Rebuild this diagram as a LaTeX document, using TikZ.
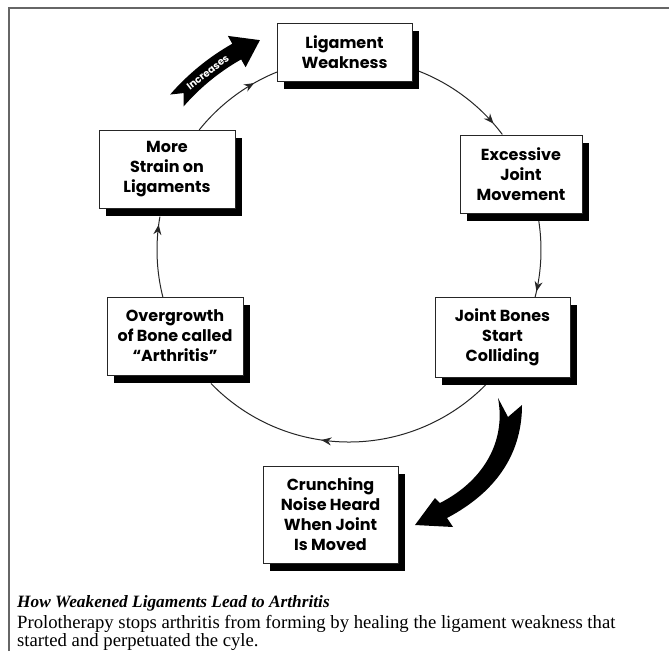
\documentclass[tikz,border=0pt]{standalone}
\usepackage{fontspec}
\setmainfont{Liberation Serif}
\newfontfamily\boxfont{Poppins}
\usetikzlibrary{arrows.meta,decorations.markings,shadows,calc}
\begin{document}
\begin{tikzpicture}[x=1pt,y=1pt,
  box/.style={draw=black!85, line width=0.8pt, fill=white, align=center,
    font=\boxfont\bfseries\fontsize{16}{20}\selectfont, inner sep=1pt,
    general shadow={fill=black, shadow xshift=7pt, shadow yshift=-8pt}},
  cyc/.style={line width=1pt, draw=black!85},
  midarrow/.style={postaction={decorate}, decoration={markings,
    mark=at position #1 with {\arrow{Stealth[length=10pt,width=8pt]}}}},
  frameline/.style={draw=black!60, line width=1.3pt}
]
\useasboundingbox (0,0) rectangle (669,-651);
\fill[white] (0,0) rectangle (669,-651);
% frame
\coordinate (fb) at (9,-651);
\coordinate (fc) at (9,-8);
\coordinate (fr) at (669,-8);
\draw[frameline] (fb) -- (fc) -- (fr);

\coordinate (C) at (349,-250);
% cycle arcs
\coordinate (a1) at ($(C)+(69:192pt)$);
\coordinate (a2) at ($(C)+(12:192pt)$);
\coordinate (a3) at ($(C)+(-44:192pt)$);
\coordinate (a4) at ($(C)+(194.2:192pt)$);
\coordinate (a5) at ($(C)+(141.3:192pt)$);
\draw[cyc, midarrow=0.87] (a1) arc[start angle=69, end angle=37, radius=192pt];
\draw[cyc, midarrow=0.92] (a2) arc[start angle=12, end angle=-14.6, radius=192pt];
\draw[cyc, midarrow=0.59] (a3) arc[start angle=-44, end angle=-136, radius=192pt];
\draw[cyc, midarrow=0.9] (a4) arc[start angle=194.2, end angle=170, radius=192pt];
\draw[cyc, midarrow=0.74] (a5) arc[start angle=141.3, end angle=112, radius=192pt];

% boxes
\node[box, minimum width=135pt, minimum height=58pt] (lig) at (344.5,-52) {Ligament\\Weakness};
\node[box, minimum width=136pt, minimum height=78pt] (more) at (167,-169) {More\\Strain on\\Ligaments};
\node[box, minimum width=122pt, minimum height=78pt] (exc) at (521,-174) {Excessive\\Joint\\Movement};
\node[box, minimum width=136pt, minimum height=78pt] (over) at (175,-336) {Overgrowth\\of Bone called\\“Arthritis”};
\node[box, minimum width=135pt, minimum height=80pt] (joint) at (502.5,-337) {Joint Bones\\Start\\Colliding};
\node[box, minimum width=135pt, minimum height=97pt] (crunch) at (330.5,-514.5) {Crunching\\Noise Heard\\When Joint\\Is Moved};

% "Increases" ribbon arrow
\fill[black] ($(C)+(139:237pt)$) arc[start angle=139, end angle=119.5, radius=237pt]
  -- ($(C)+(119.5:246pt)$) -- ($(C)+(113:228pt)$) -- ($(C)+(119.5:210pt)$)
  -- ($(C)+(119.5:219pt)$) arc[start angle=119.5, end angle=139, radius=219pt]
  -- ($(C)+(136.5:228pt)$) -- cycle;
\node[text=white, font=\boxfont\bfseries\fontsize{10}{10}\selectfont, rotate=38, inner sep=0pt] (inc) at ($(C)+(128.5:227pt)$) {Increases};

% big curved arrow from joint to crunch
\coordinate (b1) at (498,-398);
\coordinate (b2) at (440,-503);
\coordinate (b3) at (435,-498);
\coordinate (b4) at (415,-525);
\coordinate (b5) at (453,-527);
\coordinate (b6) at (447,-518);
\coordinate (b7) at (522,-405);
\coordinate (b8) at (508,-417);
\fill[black] (b1) .. controls (506,-440) and (485,-480) .. (b2) -- (b3) -- (b4) -- (b5) -- (b6)
  .. controls (500,-490) and (522,-450) .. (b7) -- (b8) -- cycle;

% caption
\node[anchor=base west, inner sep=0pt, font=\fontsize{17.3}{18}\selectfont\bfseries\itshape] (cap) at (17,-607) {How Weakened Ligaments Lead to Arthritis};
\node[anchor=base west, inner sep=0pt, font=\fontsize{18.7}{20}\selectfont] (body1) at (17,-628) {Prolotherapy stops arthritis from forming by healing the ligament weakness that};
\node[anchor=base west, inner sep=0pt, font=\fontsize{18.7}{20}\selectfont] (body2) at (17,-646) {started and perpetuated the cyle.};
\end{tikzpicture}
\end{document}
